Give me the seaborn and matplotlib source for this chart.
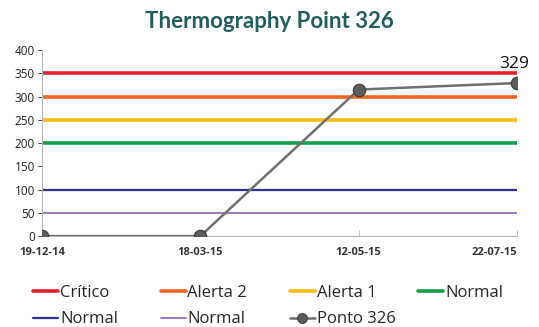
import matplotlib
matplotlib.use("Agg")
import matplotlib.pyplot as plt
import seaborn as sns
import numpy as np

dates = ["19-12-14", "18-03-15", "12-05-15", "22-07-15"]
ponto_326 = [0, 0, 315, 329]

limit_names = ["Crítico", "Alerta 2", "Alerta 1", "Normal", "Normal", "Normal"]
limit_values = [350, 300, 250, 200, 100, 50]
limit_colors = ["#e8202a", "#f26522", "#fdb913", "#12a04a", "#2e3192", "#8b62b8"]
limit_widths = [2.6, 2.6, 2.6, 2.6, 1.6, 1.2]

sns.set_theme(style="white")
plt.rcParams["font.family"] = ["Open Sans", "DejaVu Sans"]

fig = plt.figure(figsize=(5.39, 3.27), dpi=100)
ax = fig.add_axes([0.078, 0.278, 0.881, 0.569])

x = np.arange(len(dates))
for name, v, c, w in zip(limit_names, limit_values, limit_colors, limit_widths):
    sns.lineplot(x=x, y=[v] * len(x), ax=ax, color=c, linewidth=w, label=name)

sns.lineplot(x=x, y=ponto_326, ax=ax, color="#6f6f6f", linewidth=1.8,
             marker="o", markersize=9, markerfacecolor="#5c5c5c",
             markeredgecolor="#3c3c3c", markeredgewidth=0.8,
             label="Ponto 326", zorder=5)
ax.annotate(str(ponto_326[-1]), xy=(x[-1], ponto_326[-1]), xytext=(-2, 8),
            textcoords="offset points", ha="center", va="bottom",
            fontsize=12.5, color="#111111")

ax.set_xlim(x[0], x[-1])
ax.set_ylim(0, 400)
ax.set_yticks(range(0, 401, 50))
ax.set_xticks(x)
ax.set_xticklabels(dates, fontsize=8, fontweight="bold", color="#333333")
ax.get_xticklabels()[-1].set_horizontalalignment("right")
ax.tick_params(axis="y", labelsize=8.5, colors="#222222", length=3, width=0.6,
               direction="out", left=True, pad=2)
ax.tick_params(axis="x", length=4, width=0.6, direction="in", bottom=True,
               pad=8, colors="#bbbbbb", labelcolor="#333333")
for s in ["top", "right"]:
    ax.spines[s].set_visible(False)
for s in ["left", "bottom"]:
    ax.spines[s].set_color("#b5b5b5")
    ax.spines[s].set_linewidth(0.8)
ax.set_xlabel("")
ax.set_ylabel("")

fig.suptitle("Thermography Point 326", x=0.5, y=0.965, fontsize=16,
             fontweight="bold", color="#1f5e5a", family=["Lato", "DejaVu Sans"])

handles, labels = ax.get_legend_handles_labels()
if ax.legend_:
    ax.legend_.remove()

# one legend column per slot, filled row by row
col_x = [0.062, 0.298, 0.538, 0.776]
for col, cx in enumerate(col_x):
    idx = [i for i in range(col, len(handles), 4)]
    leg = fig.legend([handles[i] for i in idx], [labels[i] for i in idx],
                     loc="upper left", bbox_to_anchor=(cx, 0.128),
                     borderaxespad=0, borderpad=0,
                     ncol=1, frameon=False, fontsize=12, handlelength=1.5,
                     handletextpad=0.1, labelspacing=0.62)
    for h in leg.legend_handles:
        h.set_markersize(7)

fig.savefig("out.png", dpi=100)
